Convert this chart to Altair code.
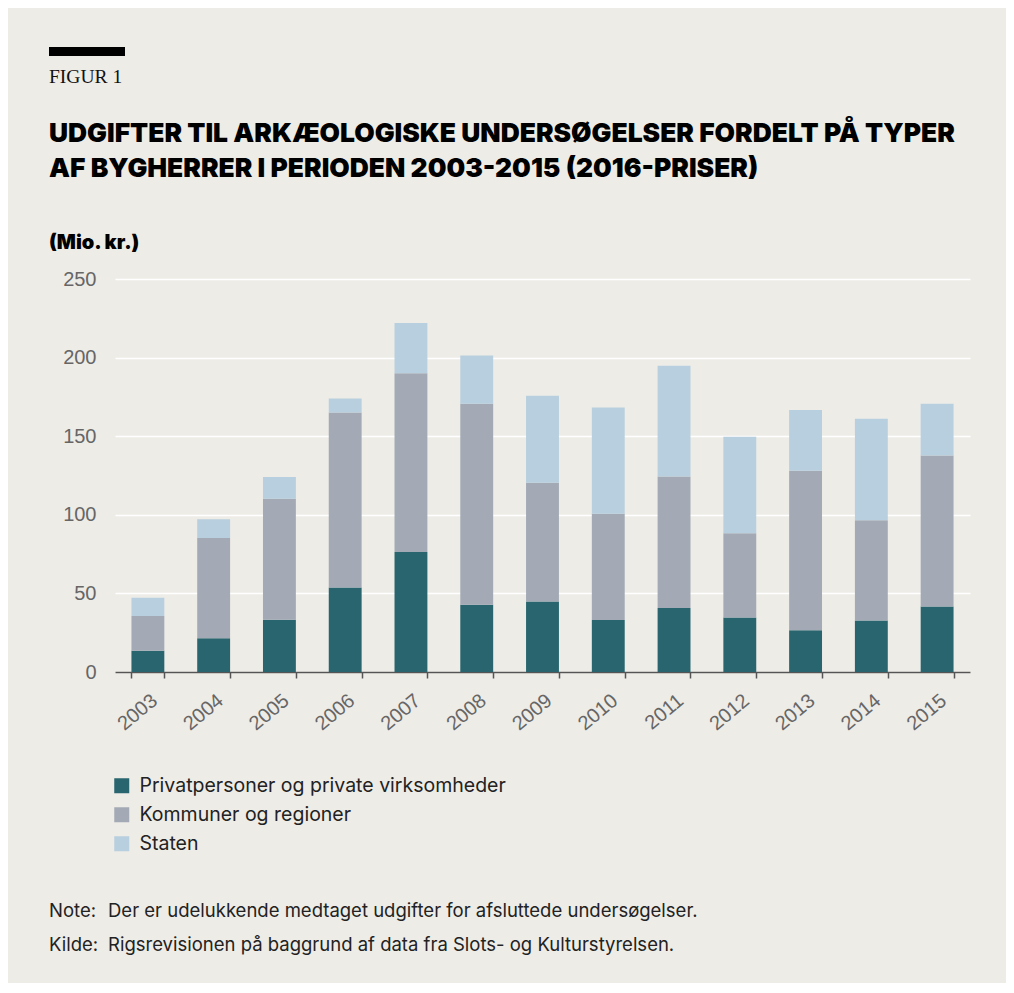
import altair as alt
import pandas as pd

years = [str(y) for y in range(2003, 2016)]
privat = [13.5, 21.4, 33.3, 53.8, 76.3, 42.8, 44.9, 33.1, 40.7, 34.7, 26.5, 32.8, 41.7]
kommuner = [22.1, 63.8, 76.9, 111.2, 113.7, 127.9, 75.5, 67.6, 83.7, 53.5, 101.6, 63.7, 96.1]
staten = [11.7, 11.9, 13.8, 9.0, 32.0, 30.7, 55.4, 67.6, 70.4, 61.5, 38.6, 64.6, 32.9]

series = ["Privatpersoner og private virksomheder", "Kommuner og regioner", "Staten"]
colors = ["#28656F", "#A3AAB5", "#B7CFDF"]

title1 = "UDGIFTER TIL ARKÆOLOGISKE UNDERSØGELSER FORDELT PÅ TYPER"
title2 = "AF BYGHERRER I PERIODEN 2003-2015 (2016-PRISER)"
figlabel = "FIGUR 1"
unit = "(Mio. kr.)"
note_lbl = "Note:"
note_txt = "Der er udelukkende medtaget udgifter for afsluttede undersøgelser."
kilde_lbl = "Kilde:"
kilde_txt = "Rigsrevisionen på baggrund af data fra Slots- og Kulturstyrelsen."

rows = []
for i, y in enumerate(years):
    for k, (s, vals) in enumerate(zip(series, [privat, kommuner, staten])):
        rows.append({"year": y, "series": s, "value": vals[i], "idx": k})
df = pd.DataFrame(rows)

BODY = "Inter"
AXF = "Liberation Sans"

bars = alt.Chart(df).mark_bar().encode(
    x=alt.X("year:N", title=None,
            scale=alt.Scale(paddingInner=0.5, paddingOuter=0.25),
            axis=alt.Axis(labelAngle=-40, labelAlign="right", labelBaseline="top",
                          labelFont=AXF, labelFontSize=20, labelColor="#666666",
                          labelPadding=12, tickBand="extent", tickSize=6,
                          tickColor="#555555", domainColor="#555555",
                          domainWidth=1.5, tickWidth=1.5, grid=False)),
    y=alt.Y("value:Q", title=None, stack="zero",
            scale=alt.Scale(domain=[0, 250]),
            axis=alt.Axis(values=[0, 50, 100, 150, 200, 250], domain=False, ticks=False,
                          labelFont=AXF, labelFontSize=20, labelColor="#666666",
                          labelPadding=19, gridColor="#FFFFFF", gridWidth=1.5)),
    color=alt.Color("series:N", scale=alt.Scale(domain=series, range=colors),
                    legend=alt.Legend(orient="none", legendX=-3, legendY=497, title=None,
                                      symbolType="square", symbolSize=225,
                                      symbolStrokeWidth=0, labelFont=BODY,
                                      labelFontSize=19.5, labelColor="#222222",
                                      labelOffset=8, rowPadding=8, padding=0,
                                      labelLimit=0, direction="vertical")),
    order=alt.Order("idx:Q", sort="ascending"),
)


def text_layer(txt, x, y, font, size, weight="normal", color="#111111"):
    return alt.Chart(pd.DataFrame({"t": [txt]})).mark_text(
        align="left", baseline="alphabetic", font=font, fontSize=size,
        fontWeight=weight, color=color
    ).encode(text="t:N", x=alt.value(x), y=alt.value(y))


blackbar = alt.Chart(pd.DataFrame({"t": [figlabel]})).mark_rect(color="#000000").encode(
    x=alt.value(-66), x2=alt.value(10), y=alt.value(-232), y2=alt.value(-223)
)

layers = [
    bars,
    blackbar,
    text_layer(figlabel, -66, -196, "Liberation Serif", 19.5),
    text_layer(title1, -66, -137, "Inter", 26.4, 900, "#000000"),
    text_layer(title2, -66, -102, "Inter", 26.4, 900, "#000000"),
    text_layer(unit, -66, -30, "Inter", 20, 900, "#000000"),
    text_layer(note_lbl, -66, 638, BODY, 18.5, "normal", "#222222"),
    text_layer(note_txt, -7, 638, BODY, 18.5, "normal", "#222222"),
    text_layer(kilde_lbl, -66, 672, BODY, 18.5, "normal", "#222222"),
    text_layer(kilde_txt, -7, 672, BODY, 18.5, "normal", "#222222"),
]

chart = alt.layer(*layers).properties(
    width=855, height=393,
    padding={"left": 107, "top": 271, "right": 36, "bottom": 311},
    autosize=alt.AutoSizeParams(type="none"),
    background="#EEECE7",
).configure_view(stroke=None)

chart.save("out.html", embed_options={"renderer": "svg", "actions": False})
